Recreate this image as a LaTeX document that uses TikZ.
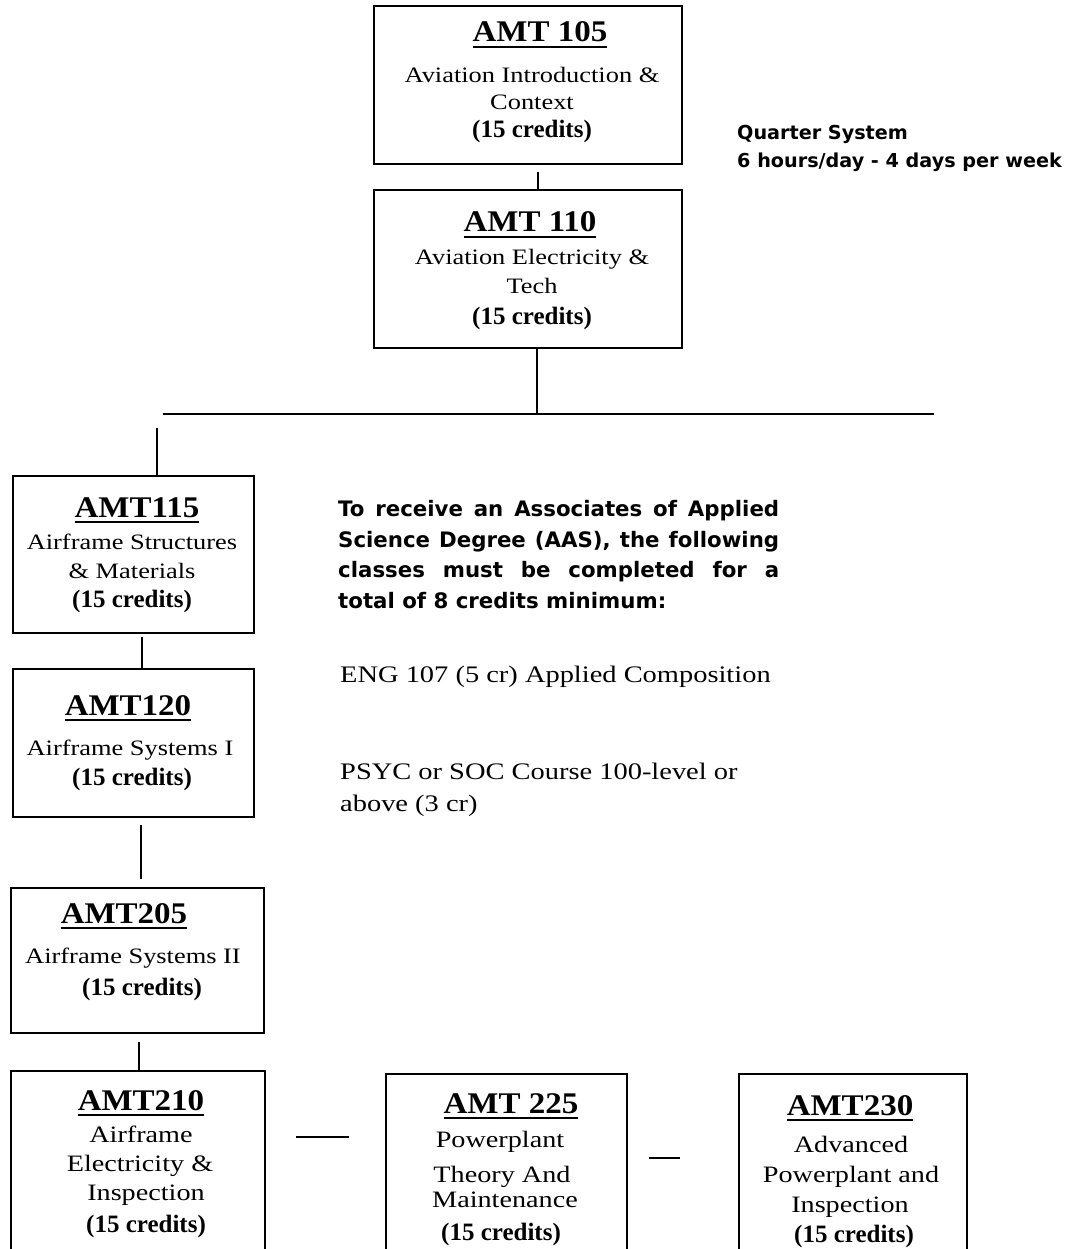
\documentclass[tikz,border=0pt]{standalone}
\usepackage{fontspec}
\setmainfont{Liberation Serif}
\newfontfamily\bodyserif[FakeStretch=1.2]{Liberation Serif}
\newfontfamily\headserif[FakeStretch=1.1]{Liberation Serif}
\newfontfamily\credserif{Liberation Serif}
\newfontfamily\sansbold{DejaVu Sans}
\newcommand\hu[1]{\setbox0=\hbox{#1}\rlap{\rule[-6pt]{\wd0}{1.8pt}}\box0}
\tikzset{
  box/.style={draw, line width=1.6pt, rectangle, anchor=north west, inner sep=0pt},
  hd/.style={anchor=base, inner sep=0pt, font=\headserif\bfseries\fontsize{30}{30}\selectfont},
  tx/.style={anchor=base, inner sep=0pt, font=\bodyserif\fontsize{22}{26}\selectfont},
  txl/.style={anchor=base, inner sep=0pt, font=\bodyserif\fontsize{23.5}{28}\selectfont},
  cr/.style={anchor=base, inner sep=0pt, font=\credserif\bfseries\fontsize{25}{30}\selectfont},
  sans/.style={anchor=base west, inner sep=0pt, font=\sansbold\bfseries\fontsize{19.2}{28}\selectfont},
  plain/.style={anchor=base west, inner sep=0pt, font=\bodyserif\fontsize{23.7}{30}\selectfont},
  conn/.style={line width=2pt}
}
\begin{document}
\begin{tikzpicture}[x=1pt,y=-1pt]
\path[use as bounding box] (0,0) rectangle (1068,1249);
\clip (0,0) rectangle (1068,1249);

% boxes
\node[box, minimum width=308pt, minimum height=158pt] (b105) at (373,5) {};
\node[box, minimum width=308pt, minimum height=158pt] (b110) at (373,189) {};
\node[box, minimum width=241pt, minimum height=157pt] (b115) at (12,475) {};
\node[box, minimum width=241pt, minimum height=148pt] (b120) at (12,668) {};
\node[box, minimum width=253pt, minimum height=145pt] (b205) at (10,887) {};
\node[box, minimum width=254pt, minimum height=220pt] (b210) at (10,1070) {};
\node[box, minimum width=241pt, minimum height=220pt] (b225) at (385,1073) {};
\node[box, minimum width=228pt, minimum height=220pt] (b230) at (738,1073) {};

% connectors
\coordinate (j1) at (538,172);
\draw[conn] (j1) -- (j1 |- b110.north);
\coordinate (busM) at (537,414);
\coordinate (busL) at (163,414);
\coordinate (busR) at (934,414);
\draw[conn] (busM |- b110.south) -- (busM);
\draw[conn] (busL) -- (busR);
\coordinate (d115) at (157,428);
\draw[conn] (d115) -- (d115 |- b115.north);
\coordinate (c120) at (142,637);
\draw[conn] (c120) -- (c120 |- b120.north);
\coordinate (c205) at (141,825);
\coordinate (c205e) at (141,879);
\draw[conn] (c205) -- (c205e);
\coordinate (c210) at (139,1042);
\draw[conn] (c210) -- (c210 |- b210.north);
\coordinate (da1) at (296,1137);
\coordinate (da2) at (349,1137);
\draw[conn] (da1) -- (da2);
\coordinate (db1) at (649,1158);
\coordinate (db2) at (680,1158);
\draw[conn] (db1) -- (db2);

% box texts
\node[hd] (h105) at (540,42) {\hu{AMT 105}};
\node[tx] (t105a) at (532,83) {Aviation Introduction \&};
\node[tx] (t105b) at (532,110) {Context};
\node[cr] (k105) at (532,138) {(15 credits)};

\node[hd] (h110) at (530,232) {\hu{AMT 110}};
\node[tx] (t110a) at (532,264) {Aviation Electricity \&};
\node[tx] (t110b) at (532,293) {Tech};
\node[cr] (k110) at (532,324) {(15 credits)};

\node[hd] (h115) at (137,517) {\hu{AMT115}};
\node[tx] (t115a) at (132,549) {Airframe Structures};
\node[tx] (t115b) at (132,578) {\& Materials};
\node[cr] (k115) at (132,607) {(15 credits)};

\node[hd] (h120) at (128,715) {\hu{AMT120}};
\node[tx] (t120a) at (130,755) {Airframe Systems I};
\node[cr] (k120) at (132,785) {(15 credits)};

\node[hd] (h205) at (124,923) {\hu{AMT205}};
\node[tx] (t205a) at (133,963) {Airframe Systems II};
\node[cr] (k205) at (142,995) {(15 credits)};

\node[hd] (h210) at (141,1110) {\hu{AMT210}};
\node[txl] (t210a) at (141,1142) {Airframe};
\node[txl] (t210b) at (140,1171) {Electricity \&};
\node[txl] (t210c) at (146,1200) {Inspection};
\node[cr] (k210) at (146,1232) {(15 credits)};

\node[hd] (h225) at (511,1113) {\hu{AMT 225}};
\node[txl] (t225a) at (500,1147) {Powerplant};
\node[txl] (t225b) at (502,1182) {Theory And};
\node[txl] (t225c) at (505,1207) {Maintenance};
\node[cr] (k225) at (501,1240) {(15 credits)};

\node[hd] (h230) at (850,1115) {\hu{AMT230}};
\node[txl] (t230a) at (851,1152) {Advanced};
\node[txl] (t230b) at (851,1182) {Powerplant and};
\node[txl] (t230c) at (850,1212) {Inspection};
\node[cr] (k230) at (854,1242) {(15 credits)};

% side texts
\node[sans] (q1) at (737,140) {Quarter System};
\node[sans] (q2) at (737,168) {6 hours/day - 4 days per week};

\node[anchor=north west, inner sep=0pt, text width=441pt, align=justify,
      font=\sansbold\bfseries\fontsize{21.3}{30.7}\selectfont] (aas) at (338,500)
  {\hyphenpenalty=10000 To receive an Associates of Applied\linebreak
   Science Degree (AAS), the following\linebreak
   classes must be completed for a\linebreak
   total of 8 credits minimum:};

\node[plain] (eng) at (340,682) {ENG 107 (5 cr) Applied Composition};
\node[plain] (psyc1) at (340,779) {PSYC or SOC Course 100-level or};
\node[plain] (psyc2) at (340,811) {above (3 cr)};
\end{tikzpicture}
\end{document}
